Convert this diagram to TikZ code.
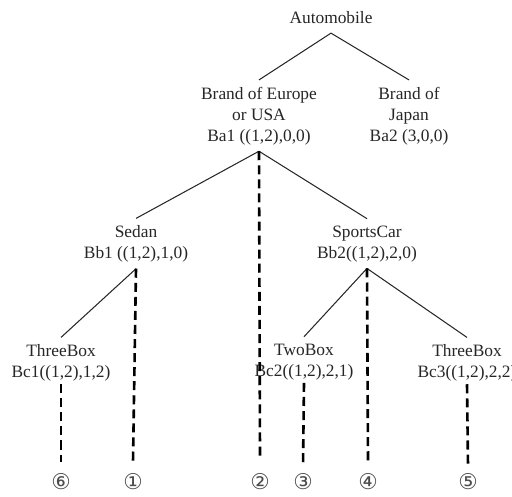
\documentclass[tikz,border=0pt]{standalone}
\usepackage{fontspec}
\setmainfont{Liberation Serif}
\newfontfamily\circfont{DejaVu Sans}
\begin{document}
\begin{tikzpicture}[x=0.576pt,y=-0.576pt,
  lbl/.style={font=\fontsize{10}{12}\selectfont, align=center, inner sep=0pt, text=black!85},
  num/.style={font=\circfont\fontsize{12.5}{14}\selectfont, inner sep=0pt, text=black!70},
  tree/.style={line width=0.6pt, black!85},
  dsh/.style={line width=1.5pt, dash pattern=on 5.2pt off 2.9pt}]
\useasboundingbox (0,0) rectangle (512,496);
\node[lbl] (auto) at (331,18) {Automobile};
\node[lbl] (ba1) at (259,116) {Brand of Europe\\or USA\\Ba1 ((1,2),0,0)};
\node[lbl] (ba2) at (409,116) {Brand of\\Japan\\Ba2 (3,0,0)};
\node[lbl] (bb1) at (136,244) {Sedan\\Bb1 ((1,2),1,0)};
\node[lbl] (bb2) at (367,244) {SportsCar\\Bb2((1,2),2,0)};
\node[lbl] (bc1) at (61,363) {ThreeBox\\Bc1((1,2),1,2)};
\node[lbl] (bc2) at (304,362) {TwoBox\\Bc2((1,2),2,1)};
\node[lbl] (bc3) at (467,363) {ThreeBox\\Bc3((1,2),2,2)};
\node[num] (n6) at (61,482) {⑥};
\node[num] (n1) at (133,482) {①};
\node[num] (n2) at (260,482) {②};
\node[num] (n3) at (303,482) {③};
\node[num] (n4) at (368,482) {④};
\node[num] (n5) at (468,482) {⑤};
% solid tree
\draw[tree] ([yshift=-5pt]auto.south) -- ([yshift=4pt]ba1.north);
\draw[tree] ([yshift=-5pt]auto.south) -- ([yshift=4pt]ba2.north);
\draw[tree] ([yshift=-3.5pt]ba1.south) -- ([yshift=4pt]bb1.north);
\draw[tree] ([yshift=-3.5pt]ba1.south) -- ([yshift=4pt]bb2.north);
\draw[tree] ([yshift=-3.5pt]bb1.south) -- ([yshift=4pt]bc1.north);
\draw[tree] ([yshift=-3.5pt]bb2.south) -- ([yshift=4pt]bc2.north);
\draw[tree] ([yshift=-3.5pt]bb2.south) -- ([yshift=4pt]bc3.north);
% dashed
\draw[dsh] ([yshift=-3.5pt]ba1.south) -- ([yshift=10pt]n2.north);
\draw[dsh] ([yshift=-3.5pt]bb1.south) -- ([yshift=6.6pt]n1.north);
\draw[dsh] ([yshift=-3.5pt]bb2.south) -- ([yshift=6.6pt]n4.north);
\draw[dsh] ([yshift=-1.5pt]bc1.south) -- ([yshift=6.6pt]n6.north);
\draw[dsh] ([yshift=-1.5pt]bc2.south) -- ([yshift=4.3pt]n3.north);
\draw[dsh] ([yshift=-1.5pt]bc3.south) -- ([yshift=4.3pt]n5.north);
\end{tikzpicture}
\end{document}
